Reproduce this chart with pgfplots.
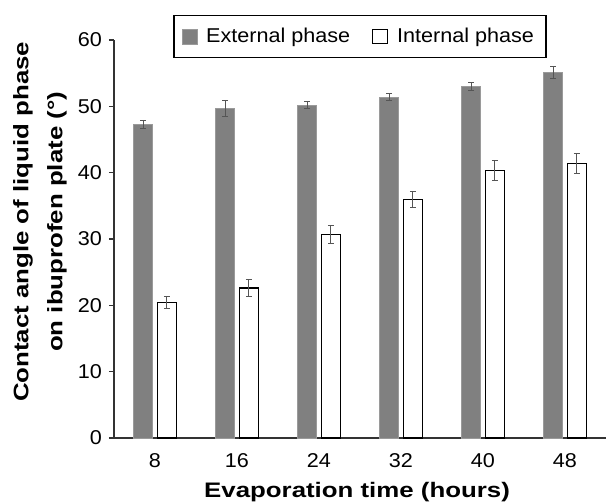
\documentclass[border=0pt]{standalone}
\usepackage{pgfplots}
\pgfplotsset{compat=1.18}
\usepackage{fontspec}
\setmainfont{Liberation Sans}[FakeStretch=1.08]
\newfontfamily\labelfont{Liberation Sans}[FakeStretch=1.23]
\definecolor{bargray}{HTML}{808080}
\definecolor{bargrayedge}{HTML}{9A9A9A}
\definecolor{errgray}{HTML}{555555}
\begin{document}
\begin{tikzpicture}
\begin{axis}[
  anchor=south west,
  at={(0,0)},
  scale only axis,
  width=246pt, height=199pt,
  xmin=-0.5, xmax=5.5,
  ymin=0, ymax=60,
  ybar, bar width=9.5pt,
  axis x line=bottom, axis y line=left,
  axis line style={-, line width=0.6pt, black!80},
  xtick={0,1,2,3,4,5},
  xticklabels={8,16,24,32,40,48},
  ytick={0,10,...,60},
  x tick style={draw=none},
  y tick style={line width=0.6pt, black!80},
  tick align=outside,
  major tick length=2.5pt,
  tick label style={font=\fontsize{10}{12}\selectfont},
  /pgf/number format/assume math mode=true,
  x tick label style={yshift=-1.5pt},
  every axis y label/.style={at={(axis description cs:0,0.543)}, xshift=-37pt, rotate=90, anchor=center, align=center, font=\labelfont\fontsize{10.5}{17}\selectfont\bfseries},
  every axis x label/.style={at={(axis description cs:0.494,0)}, yshift=-29.5pt, anchor=base, font=\labelfont\fontsize{10.5}{12}\selectfont\bfseries},
  xlabel={Evaporation time (hours)},
  ylabel={Contact angle of liquid phase\\on ibuprofen plate (°)},
  legend columns=2,
  legend style={at={(0.5,1)}, anchor=center, yshift=1.75pt, draw=black, line width=0.6pt, font=\fontsize{10}{12}\selectfont, inner xsep=4pt, inner ysep=4pt,
    /tikz/every odd column/.append style={column sep=2.5pt},
    /tikz/every even column/.append style={column sep=9pt}},
  legend cell align=left,
  error bars/error bar style={line width=0.5pt, draw=errgray},
  error bars/error mark options={line width=0.5pt, draw=errgray, mark size=1.5pt, rotate=90},
]
\addplot[bar shift=-5.9pt, fill=bargray, draw=bargrayedge, line width=0.4pt,
  legend image code/.code={\draw[fill=bargray, draw=bargrayedge, line width=0.3pt] (0pt,-3.65pt) rectangle (7.3pt,3.65pt);},
  error bars/.cd, y dir=both, y explicit]
coordinates {
(0,47.3) +- (0,0.6)
(1,49.7) +- (0,1.2)
(2,50.2) +- (0,0.6)
(3,51.4) +- (0,0.55)
(4,53.05) +- (0,0.6)
(5,55.1) +- (0,0.85)
};
\addlegendentry{External phase}
\addplot[bar shift=5.9pt, fill=white, draw=black, line width=0.6pt,
  legend image code/.code={\draw[fill=white, draw=black, line width=0.6pt] (0pt,-3.65pt) rectangle (7.3pt,3.65pt);},
  error bars/.cd, y dir=both, y explicit]
coordinates {
(0,20.4) +- (0,0.9)
(1,22.6) +- (0,1.25)
(2,30.7) +- (0,1.35)
(3,36.0) +- (0,1.2)
(4,40.35) +- (0,1.55)
(5,41.4) +- (0,1.5)
};
\addlegendentry{Internal phase}
\end{axis}
\pgfresetboundingbox
\path (-57pt,-33pt) rectangle (246pt,219pt);
\end{tikzpicture}
\end{document}
